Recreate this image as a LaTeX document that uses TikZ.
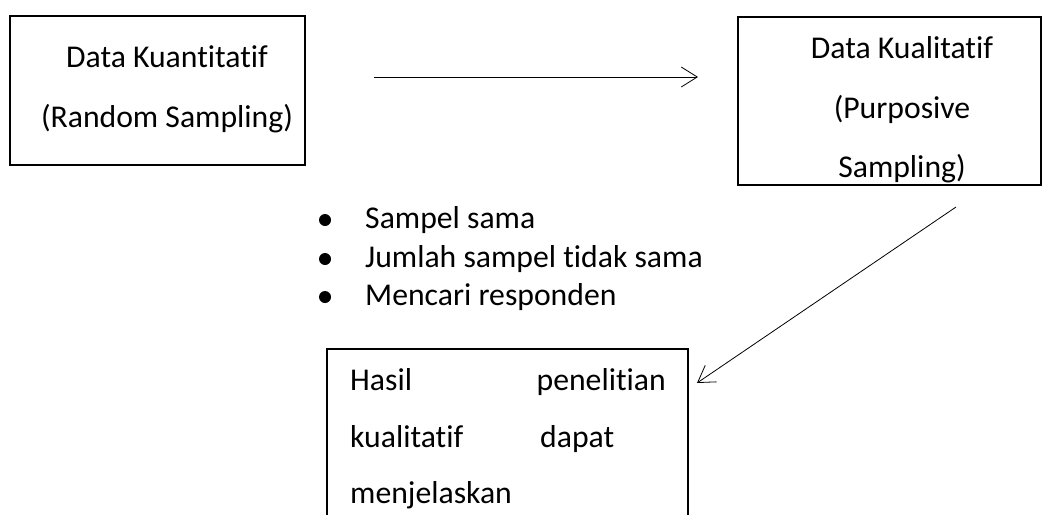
\documentclass[tikz,border=0pt]{standalone}
\usepackage{fontspec}
\setmainfont{Carlito}[Ligatures=NoCommon]
\usetikzlibrary{arrows.meta}

\begin{document}
\begin{tikzpicture}[x=1pt, y=-1pt]
 \tikzstyle{box}=[rectangle, draw, line width=1.6pt, inner sep=0pt]
 \tikzstyle{txt}=[anchor=base, inner sep=0pt, font=\fontsize{31.7}{38}\selectfont]
 \tikzstyle{dot}=[circle, fill, inner sep=0pt, minimum size=12pt]
 \tikzstyle{line}=[draw, line width=0.8pt, -{Straight Barb[length=16pt, width=20pt, line width=0.8pt]}]

 \useasboundingbox (0,0) rectangle (1043,514);
 \clip (0,0) rectangle (1043,514);

 % boxes
 \draw (157.5,90.5) node[box, minimum width=295pt, minimum height=149pt] (kuan) {};
 \draw (167,67) node[txt] (kuan1) {Data Kuantitatif};
 \draw (167,127) node[txt] (kuan2) {(Random Sampling)};

 \draw (889.5,101) node[box, minimum width=303pt, minimum height=168pt] (kual) {};
 \draw (902,58) node[txt] (kual1) {Data Kualitatif};
 \draw (902,118) node[txt] (kual2) {(Purposive};
 \draw (902,177) node[txt] (kual3) {Sampling)};

 \draw (507.5,454.5) node[box, minimum width=361pt, minimum height=211pt] (hasil) {};
 \draw (350,390) node[txt, anchor=base west] (h1) {Hasil};
 \draw (666,390) node[txt, anchor=base east] (h2) {penelitian};
 \draw (540,447) node[txt, anchor=base west] (h4) {dapat};
 \draw (350,447) node[txt, anchor=base west] (h3) {kualitatif};
 \draw (350,503) node[txt, anchor=base west] (h5) {menjelaskan};

 % bullets
 \draw (325,220) node[dot] (d1) {};
 \draw (365,228) node[txt, anchor=base west] (b1) {Sampel sama};
 \draw (325,259) node[dot] (d2) {};
 \draw (365,267) node[txt, anchor=base west] (b2) {Jumlah sampel tidak sama};
 \draw (325,297) node[dot] (d3) {};
 \draw (365,305) node[txt, anchor=base west] (b3) {Mencari responden};

 % arrows
 \coordinate (p1) at (374,77);
 \coordinate (p2) at (698,77);
 \coordinate (q1) at (956,207);
 \coordinate (q2) at (697,383);
 \path [line] (p1) -- (p2);
 \path [line] (q1) -- (q2);

\end{tikzpicture}
\end{document}
